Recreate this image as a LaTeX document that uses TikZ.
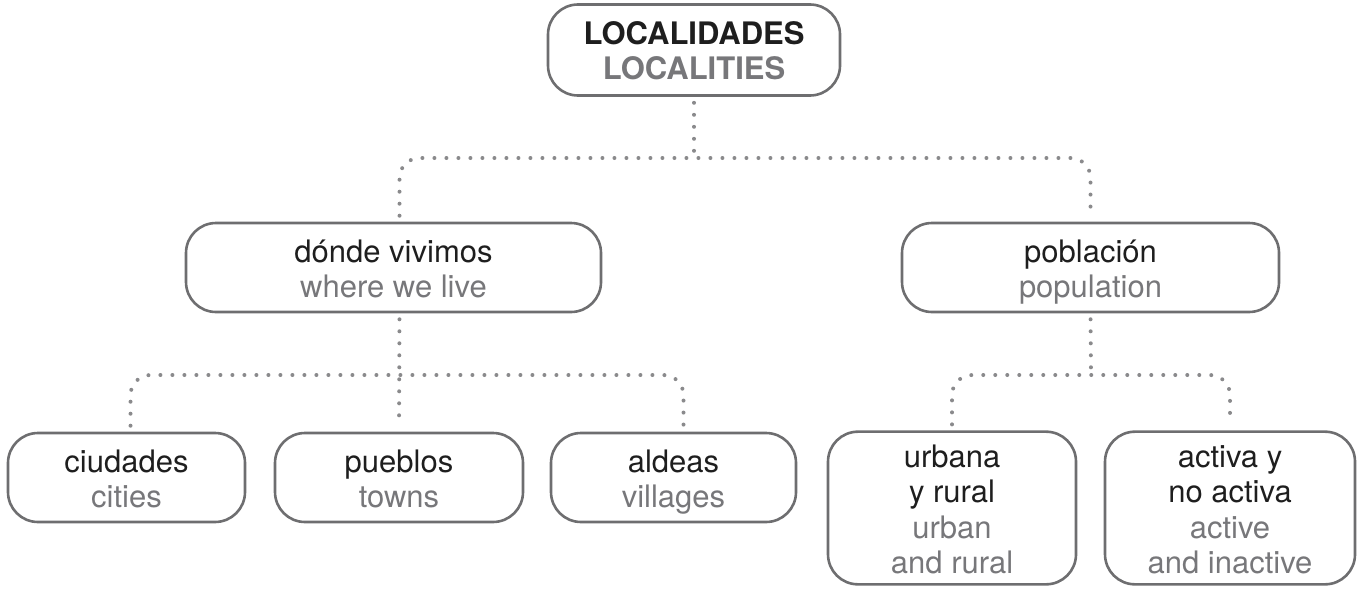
\documentclass[tikz,border=0pt]{standalone}
\usepackage{fontspec}
\setmainfont{TeX Gyre Heros}
\definecolor{txtgray}{HTML}{77777A}
\definecolor{boxgray}{HTML}{6E6E70}
\definecolor{dotgray}{HTML}{8A8A8C}
\definecolor{txtblack}{HTML}{1E1E1E}
\newcommand{\firststrut}{\rule[-0.3\baselineskip]{0pt}{1.3\baselineskip}}
\newcommand{\mystrut}{\rule[-0.3\baselineskip]{0pt}{\baselineskip}}
\newcommand{\fline}[1]{\firststrut#1}
\newcommand{\sline}[1]{\mystrut#1}
\newcommand{\gline}[1]{\mystrut\textcolor{txtgray}{#1}}
\begin{document}
\begin{tikzpicture}[x=0.5pt,y=-0.5pt,
 box/.style={draw=boxgray, line width=1.3pt, rounded corners=15pt, align=center,
   font=\fontsize{15.5}{17.75}\selectfont, text=txtblack, inner sep=0pt},
 dotline/.style={draw=dotgray, line width=2pt, line cap=round, dash pattern=on 0pt off 6pt, rounded corners=10pt}]
\useasboundingbox (0,0) rectangle (1363,589);
\node[box, minimum width=146pt, minimum height=45.5pt, font=\bfseries\fontsize{15.5}{17.25}\selectfont] (top) at (694,50)
  {\fline{LOCALIDADES}\\\gline{LOCALITIES}};
\node[box, minimum width=207.5pt, minimum height=44.5pt] (where) at (393.5,267.5)
  {\fline{dónde vivimos}\\\gline{where we live}};
\node[box, minimum width=188.5pt, minimum height=44.5pt] (pop) at (1090.5,267.5)
  {\fline{población}\\\gline{population}};
\node[box, minimum width=118.5pt, minimum height=44.5pt] (ciudades) at (126.5,477.5)
  {\fline{ciudades}\\\gline{cities}};
\node[box, minimum width=124pt, minimum height=44.5pt] (pueblos) at (399,477.5)
  {\fline{pueblos}\\\gline{towns}};
\node[box, minimum width=122.5pt, minimum height=44.5pt] (aldeas) at (673.5,477.5)
  {\fline{aldeas}\\\gline{villages}};
\node[box, minimum width=124pt, minimum height=75pt] (urbana) at (952,508)
  {\fline{urbana}\\\sline{y rural}\\\gline{urban}\\\gline{and rural}};
\node[box, minimum width=125pt, minimum height=75pt] (activa) at (1230,508)
  {\fline{activa y}\\\sline{no activa}\\\gline{active}\\\gline{and inactive}};
\coordinate (j1) at (694,158);
\coordinate (j2) at (399,375);
\coordinate (j3) at (1091,375);
\draw[dotline, shorten <=3pt] (top.south) -- (j1);
\draw[dotline, shorten <=3pt, shorten >=3pt] ([xshift=3pt]where.north) |- (j1) -| (pop.north);
\draw[dotline, shorten <=3pt, shorten >=3pt] ([xshift=3pt]where.south) -- (pueblos.north);
\draw[dotline, shorten <=3pt, shorten >=3pt] ([xshift=2pt]ciudades.north) |- (j2) -| ([xshift=5pt]aldeas.north);
\draw[dotline, shorten <=3pt] (pop.south) -- (j3);
\draw[dotline, shorten <=3pt, shorten >=3pt] (urbana.north) |- (j3) -| (activa.north);
\end{tikzpicture}
\end{document}
